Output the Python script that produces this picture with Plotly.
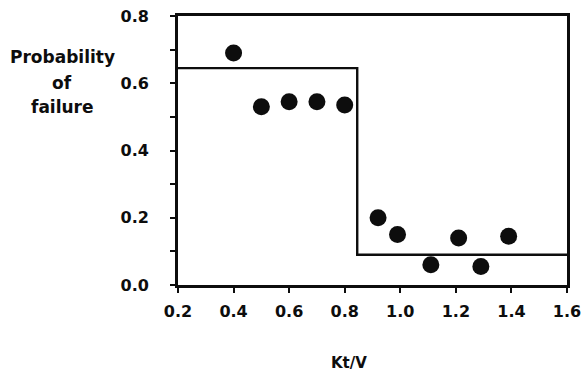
import plotly.graph_objects as go

# Observed failure probability per Kt/V bin
ktv = [0.40, 0.50, 0.60, 0.70, 0.80, 0.92, 0.99, 1.11, 1.21, 1.29, 1.39]
p_fail = [0.69, 0.53, 0.545, 0.545, 0.535, 0.20, 0.15, 0.06, 0.14, 0.055, 0.145]

# Step model: high risk below the threshold, low risk above
step_x = [0.2, 0.845, 0.845, 1.6]
step_y = [0.645, 0.645, 0.09, 0.09]

y_ticks = [0.0, 0.2, 0.4, 0.6, 0.8]
x_ticks = [0.2, 0.4, 0.6, 0.8, 1.0, 1.2, 1.4, 1.6]

# Y-axis caption, one line each
y_title_lines = ["Probability", "of", "failure"]
y_title_pos = [0.848, 0.751, 0.662]

FAMILY = "DejaVu Sans, Liberation Sans, sans-serif"
INK = "#0d0d0d"

fig = go.Figure()
fig.add_trace(go.Scatter(x=step_x, y=step_y, mode="lines",
                         line=dict(color=INK, width=2.4), hoverinfo="skip"))
fig.add_trace(go.Scatter(x=ktv, y=p_fail, mode="markers",
                         marker=dict(size=17, color=INK, line=dict(width=0))))

fig.update_layout(
    width=585, height=377,
    margin=dict(l=178, r=18, t=16, b=92, autoexpand=False),
    paper_bgcolor="white", plot_bgcolor="white",
    showlegend=False,
    font=dict(family=FAMILY, size=16, color=INK),
)
tick_font = dict(family=FAMILY, size=16, color=INK, weight="bold")
fig.update_xaxes(
    range=[0.2, 1.6], tickvals=x_ticks, ticktext=[f"{v:.1f}" for v in x_ticks],
    showgrid=False, zeroline=False, automargin=False,
    showline=True, linecolor=INK, linewidth=2.8, mirror=True,
    ticks="outside", ticklen=5, tickwidth=2.2, tickcolor=INK,
    ticklabelstandoff=5,
    tickfont=tick_font,
)
fig.update_yaxes(
    range=[0, 0.8], tickvals=y_ticks, ticktext=[f"{v:.1f}" for v in y_ticks],
    showgrid=False, zeroline=False, automargin=False,
    showline=True, linecolor=INK, linewidth=2.8, mirror=True,
    ticks="outside", ticklen=5, tickwidth=2.2, tickcolor=INK,
    minor=dict(dtick=0.1, ticks="outside", ticklen=5, tickwidth=2.2, tickcolor=INK),
    ticklabelstandoff=18,
    tickfont=tick_font,
)

for line, ypos in zip(y_title_lines, y_title_pos):
    fig.add_annotation(
        text=line, xref="paper", yref="paper",
        x=-0.298, y=ypos, xanchor="center", yanchor="middle", showarrow=False,
        font=dict(family=FAMILY, size=17, color=INK, weight="bold"),
    )
fig.add_annotation(
    text="Kt/V", xref="paper", yref="paper",
    x=0.44, y=-0.29, xanchor="center", yanchor="middle", showarrow=False,
    font=dict(family=FAMILY, size=15, color=INK, weight="bold"),
)

fig.write_html("out.html")
